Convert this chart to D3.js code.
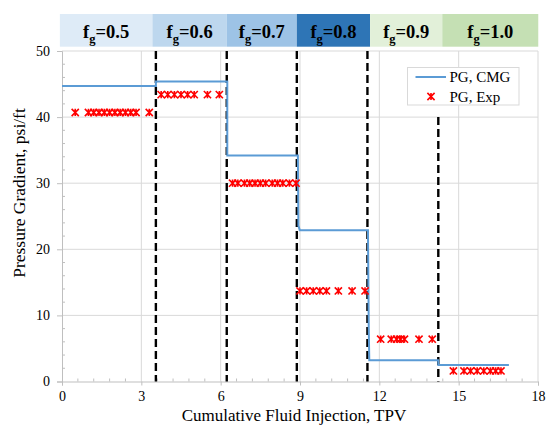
<!DOCTYPE html>
<html><head><meta charset="utf-8">
<script src="https://cdn.jsdelivr.net/npm/d3@7"></script>
<style>body{margin:0;background:#fff;}svg{display:block;font-family:"Liberation Serif","Times New Roman",serif;}</style>
</head><body>
<svg id="c" width="547" height="426"></svg>
<script>
// ---- data ----
const xTicks = [0, 3, 6, 9, 12, 15, 18];
const yTicks = [0, 10, 20, 30, 40, 50];
const bandLabels = ["0.5", "0.6", "0.7", "0.8", "0.9", "1.0"];
const bandStart = [-0.08, 3.42, 6.23, 8.88, 11.65, 14.38];
const bandEnd   = [3.42, 6.23, 8.88, 11.65, 14.38, 18.01];
const bandColors = ["#deebf7", "#bdd7ee", "#9dc3e6", "#2e75b6", "#e2f0d9", "#c5e0b4"];
const dividerX = [3.55, 6.23, 8.88, 11.55, 14.23];
const dividerTop = [50, 50, 50, 50, 40];
const cmgX = [0, 3.55, 3.55, 6.25, 6.25, 8.92, 8.94, 8.99, 11.57, 11.60, 11.62, 14.23, 14.23, 16.9];
const cmgY = [44.7, 44.7, 45.4, 45.4, 34.2, 34.2, 23.6, 22.9, 22.9, 8.0, 3.2, 3.2, 2.5, 2.5];
const expX = [0.5, 1.0, 1.2, 1.4, 1.6, 1.8, 2.0, 2.2, 2.4, 2.6, 2.8, 3.3,
              3.75, 4.0, 4.25, 4.5, 4.75, 5.0, 5.5, 5.95,
              6.45, 6.65, 6.9, 7.1, 7.3, 7.5, 7.7, 7.95, 8.15, 8.35, 8.6, 8.85,
              9.0, 9.25, 9.5, 9.75, 10.0, 10.45, 10.97, 11.46,
              12.05, 12.45, 12.65, 12.8, 12.95, 13.5, 14.0,
              14.8, 15.2, 15.45, 15.7, 15.95, 16.2, 16.4, 16.6];
const expY = [40.7, 40.7, 40.7, 40.7, 40.7, 40.7, 40.7, 40.7, 40.7, 40.7, 40.7, 40.7,
              43.4, 43.4, 43.4, 43.4, 43.4, 43.4, 43.4, 43.4,
              30.0, 30.0, 30.0, 30.0, 30.0, 30.0, 30.0, 30.0, 30.0, 30.0, 30.0, 30.0,
              13.7, 13.7, 13.7, 13.7, 13.7, 13.7, 13.7, 13.7,
              6.4, 6.4, 6.4, 6.4, 6.4, 6.4, 6.4,
              1.6, 1.6, 1.6, 1.6, 1.6, 1.6, 1.6, 1.6];
const seriesNames = ["PG, CMG", "PG, Exp"];
const xTitle = "Cumulative Fluid Injection, TPV";
const yTitle = "Pressure Gradient, psi/ft";

// ---- layout ----
const svg = d3.select("#c");
const L = 62, R = 538, T = 51, B = 381.5;
const x = d3.scaleLinear().domain([0, 18]).range([L, R]);
const y = d3.scaleLinear().domain([0, 50]).range([B, T]);

// header bands
const bands = bandLabels.map((l, i) => ({l, s: bandStart[i], e: bandEnd[i], c: bandColors[i]}));
svg.selectAll("rect.band").data(bands).join("rect")
  .attr("x", d => x(d.s)).attr("width", d => x(d.e) - x(d.s))
  .attr("y", 14).attr("height", 32.7).attr("fill", d => d.c);
const bt = svg.selectAll("text.band").data(bands).join("text")
  .attr("x", d => (x(d.s) + x(d.e)) / 2).attr("y", 38)
  .attr("text-anchor", "middle").attr("font-weight", "bold").attr("font-size", 18.5).attr("fill", "#000");
bt.append("tspan").text("f");
bt.append("tspan").attr("font-size", 12.5).attr("dy", 4.5).text("g");
bt.append("tspan").attr("dy", -4.5).text(d => "=" + d.l);

// gridlines
svg.append("g").selectAll("line").data(xTicks.slice(1)).join("line")
  .attr("x1", d => x(d)).attr("x2", d => x(d)).attr("y1", T).attr("y2", B)
  .attr("stroke", "#d9d9d9").attr("stroke-width", 1);
svg.append("g").selectAll("line").data(yTicks.slice(1)).join("line")
  .attr("x1", L).attr("x2", R).attr("y1", d => y(d)).attr("y2", d => y(d))
  .attr("stroke", "#d9d9d9").attr("stroke-width", 1);

// axes
const axisColor = "#bfbfbf";
const xAxis = svg.append("g").attr("transform", `translate(0,${B})`)
  .call(d3.axisBottom(x).tickValues(xTicks).tickSize(4).tickPadding(6));
const yAxis = svg.append("g").attr("transform", `translate(${L},0)`)
  .call(d3.axisLeft(y).tickValues(yTicks).tickSize(5).tickPadding(7));
[xAxis, yAxis].forEach(a => {
  a.select(".domain").attr("stroke", axisColor);
  a.selectAll(".tick line").attr("stroke", axisColor);
  a.selectAll(".tick text").attr("font-family", "Liberation Serif").attr("font-size", 14).attr("fill", "#000");
});
// minor ticks
const xMinor = d3.range(0, 18.01, 0.6).filter(v => Math.abs(v / 3 - Math.round(v / 3)) > 0.01);
svg.append("g").selectAll("line").data(xMinor).join("line")
  .attr("x1", d => x(d)).attr("x2", d => x(d)).attr("y1", B).attr("y2", B - 3)
  .attr("stroke", axisColor);
const yMinor = d3.range(0, 50.01, 2).filter(v => v % 10 !== 0);
svg.append("g").selectAll("line").data(yMinor).join("line")
  .attr("x1", L).attr("x2", L + 3).attr("y1", d => y(d)).attr("y2", d => y(d))
  .attr("stroke", axisColor);

// dashed dividers
svg.append("g").selectAll("line").data(dividerX).join("line")
  .attr("x1", d => x(d)).attr("x2", d => x(d))
  .attr("y1", (d, i) => y(dividerTop[i])).attr("y2", B)
  .attr("stroke", "#000").attr("stroke-width", 2.4).attr("stroke-dasharray", "8,4");

// CMG line
const cmg = cmgX.map((v, i) => [v, cmgY[i]]);
svg.append("path").datum(cmg)
  .attr("d", d3.line().x(d => x(d[0])).y(d => y(d[1])))
  .attr("fill", "none").attr("stroke", "#5b9bd5").attr("stroke-width", 2);

// Exp markers
const star = s => `M${-s},${-s}L${s},${s}M${-s},${s}L${s},${-s}M0,${-s}L0,${s}`;
const exp = expX.map((v, i) => [v, expY[i]]);
svg.append("g").selectAll("path").data(exp).join("path")
  .attr("transform", d => `translate(${x(d[0])},${y(d[1])})`)
  .attr("d", star(3.6)).attr("fill", "none").attr("stroke", "#ff0000").attr("stroke-width", 1.6);

// legend
const lg = svg.append("g");
lg.append("rect").attr("x", 407.5).attr("y", 67.5).attr("width", 111.5).attr("height", 37.5)
  .attr("fill", "#fff").attr("stroke", "#d9d9d9");
lg.append("line").attr("x1", 415.5).attr("x2", 446).attr("y1", 77).attr("y2", 77)
  .attr("stroke", "#5b9bd5").attr("stroke-width", 2);
lg.append("path").attr("transform", "translate(431,96.5)").attr("d", star(3.6))
  .attr("fill", "none").attr("stroke", "#ff0000").attr("stroke-width", 1.6);
lg.selectAll("text").data(seriesNames).join("text")
  .attr("x", 449.5).attr("y", (d, i) => 77 + i * 19.5).attr("dy", "0.35em")
  .attr("font-size", 15).attr("fill", "#000").text(d => d);

// titles
svg.append("text").attr("x", 294).attr("y", 421).attr("text-anchor", "middle")
  .attr("font-size", 17).attr("fill", "#000").text(xTitle);
svg.append("text").attr("transform", `translate(25,193) rotate(-90)`).attr("text-anchor", "middle")
  .attr("font-size", 17.5).attr("fill", "#000").text(yTitle);
</script>
</body></html>
